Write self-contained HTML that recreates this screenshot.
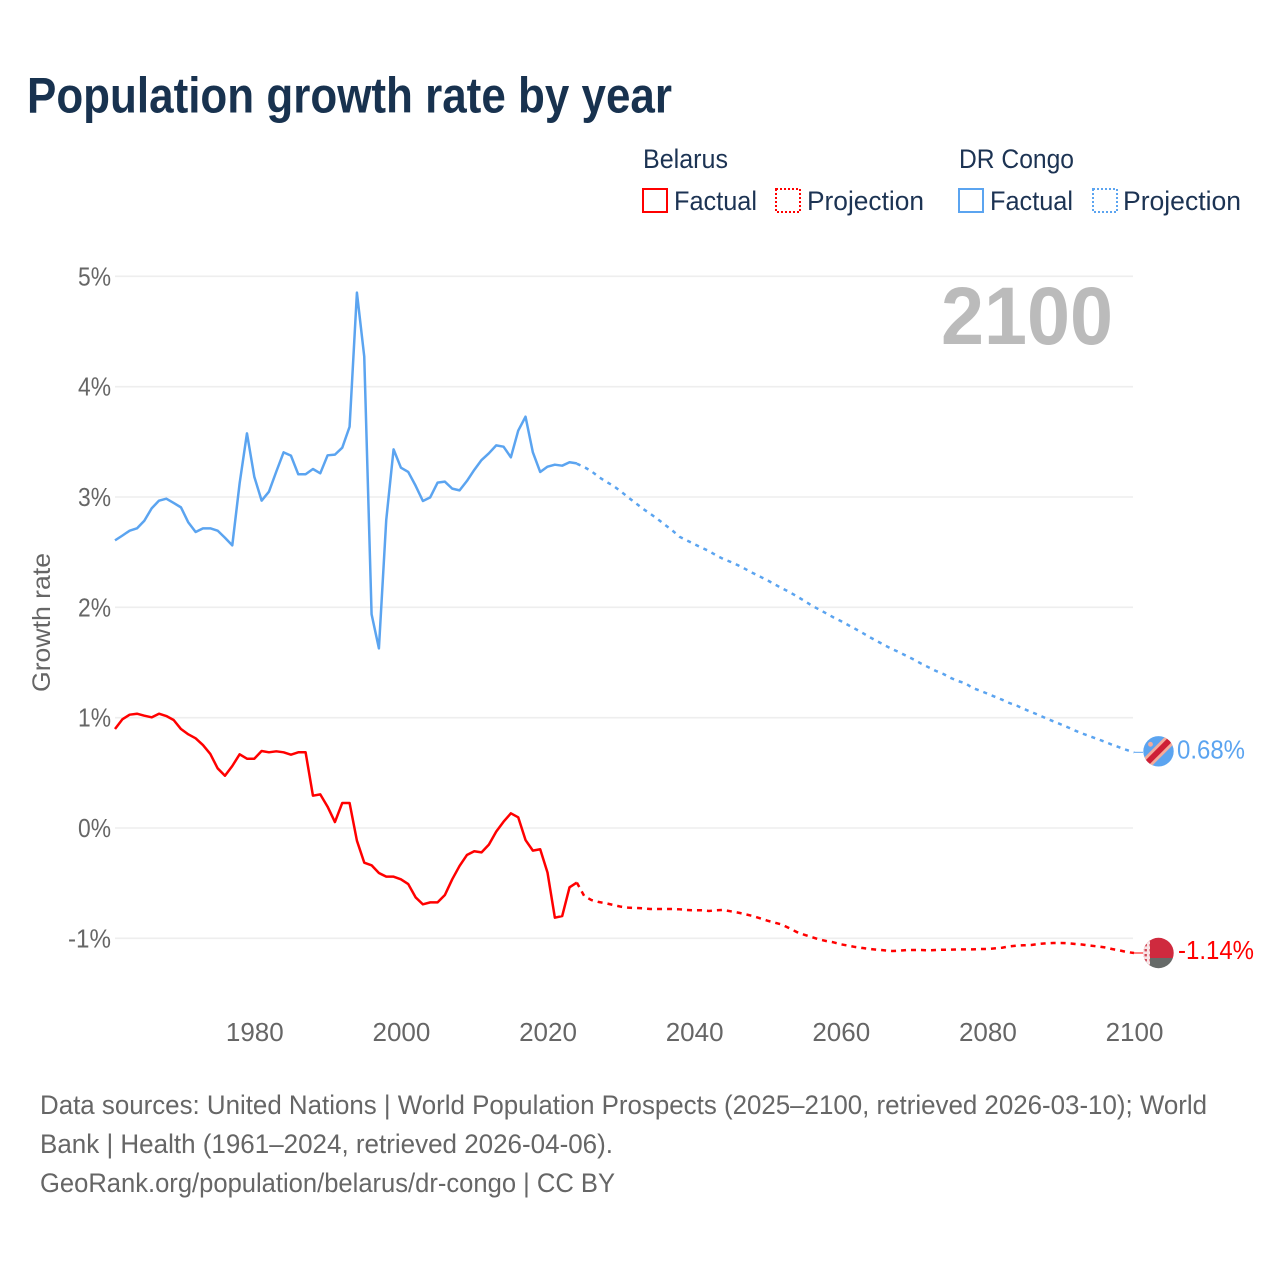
<!DOCTYPE html>
<html lang="en">
<head>
<meta charset="utf-8">
<title>Population growth rate by year</title>
<style>
html,body{margin:0;padding:0;background:#fff;}
svg{display:block;font-family:"Liberation Sans",sans-serif;}
</style>
</head>
<body>
<svg id="chart" xmlns="http://www.w3.org/2000/svg" width="1280" height="1280" viewBox="0 0 1280 1280">
  <rect x="0" y="0" width="1280" height="1280" fill="#ffffff"/>
  <text x="27" y="112.5" font-size="50" font-weight="700" fill="#18324f" textLength="645" lengthAdjust="spacingAndGlyphs">Population growth rate by year</text>

  <g font-size="27" fill="#1c3353">
    <text x="643" y="168" textLength="85" lengthAdjust="spacingAndGlyphs">Belarus</text>
    <text x="959" y="168" textLength="115" lengthAdjust="spacingAndGlyphs">DR Congo</text>
    <g>
      <rect x="643" y="189" width="24" height="23" fill="none" stroke="#ff0000" stroke-width="2"/>
      <text x="674" y="210" textLength="83" lengthAdjust="spacingAndGlyphs">Factual</text>
    </g>
    <g>
      <rect x="776" y="189" width="24" height="23" fill="none" stroke="#ff0000" stroke-width="2" stroke-dasharray="2 2"/>
      <text x="807" y="210" textLength="117" lengthAdjust="spacingAndGlyphs">Projection</text>
    </g>
    <g>
      <rect x="959" y="189" width="24" height="23" fill="none" stroke="#5ba4f0" stroke-width="2"/>
      <text x="990" y="210" textLength="83" lengthAdjust="spacingAndGlyphs">Factual</text>
    </g>
    <g>
      <rect x="1093" y="189" width="24" height="23" fill="none" stroke="#5ba4f0" stroke-width="2" stroke-dasharray="2 2"/>
      <text x="1123" y="210" textLength="118" lengthAdjust="spacingAndGlyphs">Projection</text>
    </g>
  </g>

  <g id="grid"></g>
  <text x="1113" y="344" text-anchor="end" font-size="82" font-weight="700" fill="#bbbbbb" textLength="172" lengthAdjust="spacingAndGlyphs">2100</text>
  <g id="yTicks" font-size="26" fill="#666666" text-anchor="end"></g>
  <g id="xTicks" font-size="26" fill="#666666" text-anchor="middle"></g>
  <text transform="translate(50,692) rotate(-90)" font-size="25" fill="#666666" textLength="139" lengthAdjust="spacingAndGlyphs">Growth rate</text>

  <g id="series"></g>

  <defs>
    <clipPath id="flagClipCongo"><circle cx="0" cy="0" r="15.2"/></clipPath>
    <clipPath id="flagClipBelarus"><circle cx="0" cy="0" r="15.2"/></clipPath>
    <pattern id="belarusOrnament" x="0" y="0" width="5" height="5" patternUnits="userSpaceOnUse">
      <rect width="5" height="5" fill="#f8e4e6"/>
      <rect x="1" y="1" width="2.4" height="2.4" fill="#d24a58"/>
    </pattern>
  </defs>

  <g id="flagCongo">
    <g clip-path="url(#flagClipCongo)">
      <rect x="-16" y="-16" width="32" height="32" fill="#5ba4f0"/>
      <polygon points="-20,12 12,-20 20,-12 -12,20" fill="#f4ab9a"/>
      <polygon points="-18,14 14,-18 18,-14 -14,18" fill="#ce2036"/>
      <circle cx="-8" cy="-7" r="2.4" fill="#f4ab9a"/>
    </g>
  </g>
  <g id="flagBelarus">
    <g clip-path="url(#flagClipBelarus)">
      <rect x="-16" y="-16" width="32" height="21" fill="#cf2a3e"/>
      <rect x="-16" y="5" width="32" height="11" fill="#666a68"/>
      <rect x="-16" y="-16" width="7.5" height="32" fill="url(#belarusOrnament)"/>
    </g>
  </g>
  <text id="labelCongo" x="1177" font-size="26" fill="#5ba4f0" textLength="68" lengthAdjust="spacingAndGlyphs"></text>
  <text id="labelBelarus" x="1178" font-size="26" fill="#ff0000" textLength="76" lengthAdjust="spacingAndGlyphs"></text>

  <g font-size="27" fill="#666666">
    <text x="40" y="1114" textLength="1167" lengthAdjust="spacingAndGlyphs">Data sources: United Nations | World Population Prospects (2025–2100, retrieved 2026-03-10); World</text>
    <text x="40" y="1153" textLength="573" lengthAdjust="spacingAndGlyphs">Bank | Health (1961–2024, retrieved 2026-04-06).</text>
    <text x="40" y="1192" textLength="575" lengthAdjust="spacingAndGlyphs">GeoRank.org/population/belarus/dr-congo | CC BY</text>
  </g>
</svg>
<script>
const factualStartYear = 1961;
const projectionStartYear = 2024;
const xTickYears = [1980, 2000, 2020, 2040, 2060, 2080, 2100];
const yTickValues = [5, 4, 3, 2, 1, 0, -1];
const yTickLabels = ["5%", "4%", "3%", "2%", "1%", "0%", "-1%"];
const endValueLabels = ["0.68%", "-1.14%"];

const belarusFactual = [
  0.897, 0.985, 1.027, 1.036, 1.018, 1.003, 1.036, 1.015, 0.979, 0.897,
  0.849, 0.813, 0.752, 0.671, 0.541, 0.474, 0.562, 0.668, 0.628, 0.628,
  0.698, 0.686, 0.695, 0.686, 0.665, 0.686, 0.686, 0.293, 0.305, 0.193,
  0.054, 0.227, 0.227, -0.115, -0.314, -0.338, -0.408, -0.441, -0.441, -0.465,
  -0.508, -0.628, -0.692, -0.674, -0.674, -0.607, -0.465, -0.344, -0.245, -0.211,
  -0.221, -0.151, -0.033, 0.057, 0.133, 0.097, -0.109, -0.205, -0.193, -0.405,
  -0.813, -0.798, -0.538, -0.495
];
const belarusProjection = [
  -0.495, -0.616, -0.653, -0.671, -0.683, -0.698, -0.713, -0.722, -0.725, -0.728,
  -0.734, -0.734, -0.734, -0.734, -0.737, -0.743, -0.746, -0.746, -0.752, -0.746,
  -0.743, -0.755, -0.767, -0.782, -0.798, -0.819, -0.840, -0.858, -0.876, -0.909,
  -0.943, -0.967, -0.988, -1.009, -1.024, -1.036, -1.054, -1.066, -1.079, -1.088,
  -1.097, -1.103, -1.109, -1.115, -1.112, -1.106, -1.106, -1.106, -1.109, -1.106,
  -1.103, -1.103, -1.100, -1.100, -1.100, -1.097, -1.097, -1.091, -1.085, -1.073,
  -1.066, -1.063, -1.060, -1.051, -1.045, -1.042, -1.042, -1.045, -1.051, -1.057,
  -1.066, -1.073, -1.082, -1.097, -1.109, -1.124, -1.133
];
const congoFactual = [
  2.607, 2.650, 2.695, 2.716, 2.785, 2.897, 2.967, 2.985, 2.946, 2.906,
  2.770, 2.683, 2.716, 2.716, 2.695, 2.631, 2.562, 3.124, 3.577, 3.184,
  2.967, 3.048, 3.230, 3.405, 3.375, 3.206, 3.206, 3.254, 3.215, 3.378,
  3.384, 3.447, 3.637, 4.852, 4.272, 1.937, 1.628, 2.792, 3.432, 3.266,
  3.227, 3.103, 2.964, 2.997, 3.130, 3.139, 3.076, 3.060, 3.145, 3.245,
  3.335, 3.396, 3.468, 3.456, 3.360, 3.601, 3.728, 3.405, 3.227, 3.275,
  3.293, 3.284, 3.315, 3.305
];
const congoProjection = [
  3.302, 3.272, 3.233, 3.181, 3.139, 3.100, 3.051, 2.997, 2.946, 2.894,
  2.849, 2.801, 2.749, 2.698, 2.640, 2.607, 2.574, 2.541, 2.511, 2.471,
  2.438, 2.411, 2.381, 2.347, 2.311, 2.278, 2.245, 2.208, 2.172, 2.139,
  2.100, 2.060, 2.018, 1.982, 1.946, 1.909, 1.876, 1.840, 1.804, 1.767,
  1.728, 1.692, 1.656, 1.622, 1.592, 1.559, 1.526, 1.489, 1.456, 1.423,
  1.396, 1.360, 1.332, 1.311, 1.269, 1.245, 1.218, 1.190, 1.163, 1.133,
  1.109, 1.079, 1.051, 1.024, 0.994, 0.967, 0.940, 0.912, 0.882, 0.855,
  0.831, 0.807, 0.782, 0.755, 0.731, 0.707, 0.686
];

const SVGNS = "http://www.w3.org/2000/svg";
function xScale(year) { return 115 + (year - 1961) * (1134 - 115) / 139; }
function yScale(value) { return 828 - value * 110.33; }
function pathFrom(values, startYear) {
  return values.map(function (v, i) {
    return (i ? "L" : "M") + xScale(startYear + i).toFixed(2) + " " + yScale(v).toFixed(2);
  }).join(" ");
}
function make(tag, attrs, parent) {
  const el = document.createElementNS(SVGNS, tag);
  Object.keys(attrs).forEach(function (k) { el.setAttribute(k, attrs[k]); });
  parent.appendChild(el);
  return el;
}

const gridGroup = document.getElementById("grid");
const yTickGroup = document.getElementById("yTicks");
yTickValues.forEach(function (v, i) {
  const line = make("line", { x1: 115, x2: 1133, y1: yScale(v), y2: yScale(v), stroke: "#eeeeee", "stroke-width": 1.6 }, gridGroup);
  
  
  const label = make("text", { x: 111, y: yScale(v) + 9, textLength: yTickLabels[i].length === 2 ? 33 : 43, lengthAdjust: "spacingAndGlyphs" }, yTickGroup);
  label.textContent = yTickLabels[i];
  
  
});

const xTickGroup = document.getElementById("xTicks");
xTickYears.forEach(function (year) {
  const label = make("text", { x: xScale(year) + 0.5, y: 1041 }, xTickGroup);
  label.textContent = String(year);
  
  
});

const seriesGroup = document.getElementById("series");
const congoLine = make("path", { d: pathFrom(congoFactual, factualStartYear), fill: "none", stroke: "#5ba4f0", "stroke-width": 2.5, "stroke-linejoin": "round" }, seriesGroup);


const congoDash = make("path", { d: pathFrom(congoProjection, projectionStartYear), fill: "none", stroke: "#5ba4f0", "stroke-width": 2.5, "stroke-dasharray": "4 5" }, seriesGroup);


const belarusLine = make("path", { d: pathFrom(belarusFactual, factualStartYear), fill: "none", stroke: "#ff0000", "stroke-width": 2.5, "stroke-linejoin": "round" }, seriesGroup);


const belarusDash = make("path", { d: pathFrom(belarusProjection, projectionStartYear), fill: "none", stroke: "#ff0000", "stroke-width": 2.5, "stroke-dasharray": "5 5" }, seriesGroup);



const lastCongo = congoProjection[congoProjection.length - 1];
const lastBelarus = belarusProjection[belarusProjection.length - 1];
const congoConnector = make("line", { x1: 1134, x2: 1143, y1: yScale(lastCongo), y2: yScale(lastCongo), stroke: "#5ba4f0", "stroke-width": 1 }, seriesGroup);


const belarusConnector = make("line", { x1: 1134, x2: 1143, y1: yScale(lastBelarus), y2: yScale(lastBelarus), stroke: "#ff0000", "stroke-width": 1 }, seriesGroup);



document.getElementById("flagCongo").setAttribute("transform", "translate(1158.5," + (yScale(lastCongo) - 1) + ")");
document.getElementById("flagBelarus").setAttribute("transform", "translate(1158.5," + yScale(lastBelarus) + ")");
const labelCongo = document.getElementById("labelCongo");
labelCongo.setAttribute("y", yScale(lastCongo) + 6);
labelCongo.textContent = endValueLabels[0];
const labelBelarus = document.getElementById("labelBelarus");
labelBelarus.setAttribute("y", yScale(lastBelarus) + 6);
labelBelarus.textContent = endValueLabels[1];
</script>
</body>
</html>
